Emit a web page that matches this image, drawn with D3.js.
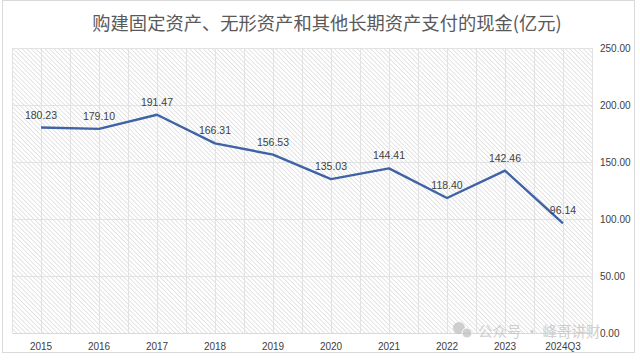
<!DOCTYPE html>
<html>
<head>
<meta charset="utf-8">
<script src="https://cdn.jsdelivr.net/npm/d3@7"></script>
<style>
  body { margin: 0; background: #fff; }
  svg { display: block; }
</style>
</head>
<body>
<script>
// 数据
const categories = ["2015", "2016", "2017", "2018", "2019", "2020", "2021", "2022", "2023", "2024Q3"];
const values = [180.23, 179.10, 191.47, 166.31, 156.53, 135.03, 144.41, 118.40, 142.46, 96.14];
const yTicks = [0, 50, 100, 150, 200, 250];
const title = "购建固定资产、无形资产和其他长期资产支付的现金(亿元)";

const width = 640, height = 362;
const plot = { left: 12, right: 592, top: 48, bottom: 333 };

const svg = d3.select("body").append("svg")
    .attr("width", width)
    .attr("height", height);

// 斜线底纹
const defs = svg.append("defs");
defs.append("pattern")
    .attr("id", "hatch")
    .attr("patternUnits", "userSpaceOnUse")
    .attr("width", 3.2)
    .attr("height", 3.2)
    .attr("patternTransform", "rotate(-45)")
  .append("line")
    .attr("x1", 0).attr("y1", 0)
    .attr("x2", 0).attr("y2", 3.2)
    .attr("stroke", "#cfcfcf")
    .attr("stroke-width", 1.1);

// 外框
svg.append("rect")
    .attr("x", 2.5).attr("y", 0.5)
    .attr("width", 632).attr("height", 352)
    .attr("fill", "#fff")
    .attr("stroke", "#d9d9d9");

const x = d3.scaleBand()
    .domain(categories)
    .range([plot.left, plot.right]);

const y = d3.scaleLinear()
    .domain([0, 250])
    .range([plot.bottom, plot.top]);

// 绘图区
svg.append("rect")
    .attr("x", plot.left).attr("y", plot.top)
    .attr("width", plot.right - plot.left)
    .attr("height", plot.bottom - plot.top)
    .attr("fill", "url(#hatch)");

// 网格线 (纵向: 类别中心和边界)
const vLines = [];
categories.forEach(c => {
    vLines.push(x(c));
    vLines.push(x(c) + x.bandwidth() / 2);
});
vLines.push(plot.right);
svg.append("g")
    .selectAll("line")
    .data(vLines)
    .join("line")
    .attr("x1", d => Math.round(d) + 0.5)
    .attr("x2", d => Math.round(d) + 0.5)
    .attr("y1", plot.top)
    .attr("y2", plot.bottom)
    .attr("stroke", "#e2e2e2")
    .attr("stroke-width", 1);

svg.append("g")
    .selectAll("line")
    .data(yTicks.filter(d => d > 0))
    .join("line")
    .attr("x1", plot.left)
    .attr("x2", plot.right)
    .attr("y1", d => Math.round(y(d)) + 0.5)
    .attr("y2", d => Math.round(y(d)) + 0.5)
    .attr("stroke", "#e2e2e2");

// 标题
svg.append("text")
    .attr("x", 327)
    .attr("y", 30)
    .attr("text-anchor", "middle")
    .style("font", "18.3px 'Noto Sans CJK SC', sans-serif")
    .style("fill", "#595959")
    .text(title);

// 右侧Y轴
const yAxis = svg.append("g")
    .attr("transform", `translate(${plot.right + 8},0)`)
    .call(d3.axisRight(y).tickValues(yTicks).tickSize(0).tickFormat(d3.format(".2f")));
yAxis.select(".domain").remove();
yAxis.selectAll("text")
    .attr("x", 0)
    .style("font", "10px 'Liberation Sans', Arial, sans-serif")
    .style("fill", "#404040");

// X轴
const xAxis = svg.append("g")
    .attr("transform", `translate(0,${plot.bottom})`)
    .call(d3.axisBottom(x).tickSize(0));
xAxis.select(".domain").attr("stroke", "#d9d9d9");
xAxis.selectAll("text")
    .attr("dy", "1.4em")
    .style("font", "10px 'Liberation Sans', Arial, sans-serif")
    .style("fill", "#404040");

// 折线
const line = d3.line()
    .x((d, i) => x(categories[i]) + x.bandwidth() / 2)
    .y(d => y(d));

svg.append("path")
    .datum(values)
    .attr("fill", "none")
    .attr("stroke", "#3f63a6")
    .attr("stroke-width", 2.4)
    .attr("stroke-linejoin", "round")
    .attr("d", line);

// 数据标签
svg.append("g")
    .selectAll("text")
    .data(values)
    .join("text")
    .attr("x", (d, i) => x(categories[i]) + x.bandwidth() / 2)
    .attr("y", d => y(d) - 9)
    .attr("text-anchor", "middle")
    .style("font", "10.5px 'Liberation Sans', Arial, sans-serif")
    .style("fill", "#404040")
    .text(d => d.toFixed(2));

// 水印 (略缩小, 避免与刻度文字重叠)
const wm = svg.append("g").attr("opacity", 0.7);
wm.append("circle").attr("cx", 459).attr("cy", 328).attr("r", 6).attr("fill", "#bdbdbd");
wm.append("circle").attr("cx", 467).attr("cy", 333).attr("r", 5).attr("fill", "#bdbdbd").attr("stroke", "#fff");
wm.append("text")
    .attr("x", 478)
    .attr("y", 337)
    .style("font", "14.5px 'Noto Sans CJK SC', sans-serif")
    .style("fill", "#bdbdbd")
    .text("公众号 · 峰哥讲财");
</script>
</body>
</html>
